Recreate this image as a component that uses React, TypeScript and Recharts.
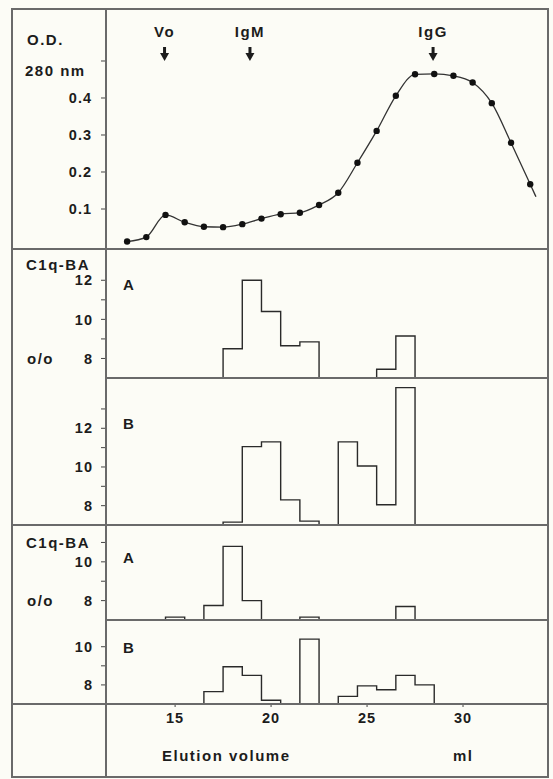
import React from 'react';
import { ComposedChart, LineChart, Line, XAxis, YAxis, ReferenceDot } from 'recharts';

// O.D. 280 nm, one reading per ml; the last value only closes the curve (no dot)
const OD_ML = [12.5, 13.5, 14.5, 15.5, 16.5, 17.5, 18.5, 19.5, 20.5, 21.5, 22.5, 23.5, 24.5, 25.5, 26.5, 27.5, 28.5, 29.5, 30.5, 31.5, 32.5, 33.5, 33.8];
const OD_280 = [0.012, 0.024, 0.084, 0.064, 0.052, 0.051, 0.059, 0.074, 0.086, 0.09, 0.111, 0.144, 0.225, 0.311, 0.406, 0.464, 0.465, 0.46, 0.442, 0.386, 0.279, 0.167, 0.133];
const OD_DOTS = 22;
const OD_TICKS = [0.1, 0.2, 0.3, 0.4, 0.5];

const MARKER_ML = [14.45, 18.9, 28.44];
const MARKER_NAMES = ['Vo', 'IgM', 'IgG'];
const MARKER_OD = 0.5;

// C1q-BA %, per 1 ml fraction (7 = base line of the panel)
const FRACTION_ML = [14, 15, 16, 17, 18, 19, 20, 21, 22, 23, 24, 25, 26, 27, 28, 29];
const C1Q_1A = [7, 7, 7, 7, 8.5, 12, 10.4, 8.65, 8.85, 7, 7, 7, 7.45, 9.15, 7, 7];
const C1Q_1B = [7, 7, 7, 7, 7.15, 11.05, 11.3, 8.3, 7.2, 7, 11.3, 10.05, 8.05, 14.1, 7, 7];
const C1Q_2A = [7, 7.15, 7, 7.75, 10.8, 8, 7, 7, 7.15, 7, 7, 7, 7, 7.7, 7, 7];
const C1Q_2B = [7, 7, 7, 7.65, 8.95, 8.5, 7.2, 7, 10.4, 7, 7.4, 7.95, 7.75, 8.5, 8, 7];

const X_DOMAIN = [11.4, 34.375];
const X_TICKS = [15, 20, 25, 30];

const INK = '#1c1c1c';
const FRAME = '#6a6a6a';
const FONT = { fontFamily: 'Liberation Sans', fontWeight: 'bold' as const, fontSize: 15, fill: INK, letterSpacing: 1.5 };
const TICK_FONT = { ...FONT, fontSize: 14.5, letterSpacing: 1 };

const odData = OD_ML.map((ml, i) => ({ ml, od: OD_280[i] }));

const Marker = (name: string) => (p: any) => (
  <g>
    <text x={p.cx} y={p.cy - 24} textAnchor="middle" {...FONT}>{name}</text>
    <line x1={p.cx} y1={p.cy - 14} x2={p.cx} y2={p.cy - 6} stroke={INK} strokeWidth={3} />
    <path d={`M${p.cx - 4.5},${p.cy - 8}L${p.cx + 4.5},${p.cy - 8}L${p.cx},${p.cy}Z`} fill={INK} />
  </g>
);

function OdPanel() {
  return (
    <div style={{ position: 'absolute', left: 0, top: 9 }}>
      <ComposedChart width={553} height={240} data={odData} margin={{ top: 0, right: 6, bottom: 0, left: 0 }}>
        <XAxis type="number" dataKey="ml" domain={X_DOMAIN} hide />
        <YAxis type="number" domain={[-0.0081, 0.6405]} ticks={OD_TICKS} width={106} axisLine={false}
          tickSize={5} tickMargin={9} tickLine={{ stroke: '#444' }} tick={TICK_FONT}
          tickFormatter={(v: number) => (v === 0.5 ? '' : v.toFixed(1))} />
        <Line type="monotone" dataKey="od" stroke="#333" strokeWidth={1.3} isAnimationActive={false}
          dot={(p: any) => p.index < OD_DOTS
            ? <circle key={p.index} cx={p.cx} cy={p.cy} r={3.2} fill="#111" />
            : <g key={p.index} />} />
        {MARKER_ML.map((ml, i) => (
          <ReferenceDot key={MARKER_NAMES[i]} x={ml} y={MARKER_OD} shape={Marker(MARKER_NAMES[i])} />
        ))}
      </ComposedChart>
    </div>
  );
}

function StepPanel({ top, height, values, domain, ticks, axis }: {
  top: number; height: number; values: number[]; domain: number[]; ticks: number[]; axis?: boolean;
}) {
  const data = FRACTION_ML.map((ml, i) => ({ ml, ba: values[i] }));
  const axisH = axis ? 40 : 0;
  return (
    <div style={{ position: 'absolute', left: 0, top }}>
      <LineChart width={553} height={height + axisH} data={data} margin={{ top: 0, right: 6, bottom: 0, left: 0 }}>
        <XAxis type="number" dataKey="ml" domain={X_DOMAIN} ticks={X_TICKS} hide={!axis} height={axisH}
          axisLine={false} tickSize={3} tickMargin={6} tickLine={{ stroke: '#444' }} tick={TICK_FONT} />
        <YAxis type="number" domain={domain} ticks={ticks} width={106} axisLine={false}
          tickSize={5} tickMargin={8} tickLine={{ stroke: '#444' }} tick={TICK_FONT}
          tickFormatter={(v: number) => (v % 2 === 0 ? String(v) : '')} />
        <Line type="step" dataKey="ba" stroke="#2a2a2a" strokeWidth={1.4} dot={false} isAnimationActive={false} />
      </LineChart>
    </div>
  );
}

function Frame() {
  const t = (x: number, y: number, s: string) => <text x={x} y={y} {...FONT}>{s}</text>;
  return (
    <svg width={553} height={779} style={{ position: 'absolute', left: 0, top: 0, pointerEvents: 'none' }}>
      <rect x={12} y={9} width={536} height={768} fill="none" stroke={FRAME} strokeWidth={2} />
      <line x1={106} y1={9} x2={106} y2={777} stroke={FRAME} strokeWidth={2} />
      <line x1={12} y1={249} x2={548} y2={249} stroke={FRAME} strokeWidth={2} />
      <line x1={106} y1={378} x2={548} y2={378} stroke={FRAME} strokeWidth={2} />
      <line x1={12} y1={525} x2={548} y2={525} stroke={FRAME} strokeWidth={2} />
      <line x1={106} y1={620} x2={548} y2={620} stroke={FRAME} strokeWidth={2} />
      <line x1={12} y1={704} x2={548} y2={704} stroke={FRAME} strokeWidth={2} />
      {t(27, 45, 'O.D.')}
      {t(25, 76, '280 nm')}
      {t(26, 270, 'C1q-BA')}
      {t(27, 364, 'o/o')}
      {t(123, 290, 'A')}
      {t(123, 429, 'B')}
      {t(26, 548, 'C1q-BA')}
      {t(27, 606, 'o/o')}
      {t(123, 563, 'A')}
      {t(123, 653, 'B')}
      {t(162, 761, 'Elution volume')}
      {t(453, 761, 'ml')}
    </svg>
  );
}

export default function App() {
  return (
    <div style={{ position: 'absolute', left: 0, top: 0, width: 553, height: 779, background: '#fcfcf6', overflow: 'hidden' }}>
      <OdPanel />
      <StepPanel top={249} height={129} values={C1Q_1A} domain={[7, 13.6]} ticks={[8, 9, 10, 11, 12]} />
      <StepPanel top={378} height={147} values={C1Q_1B} domain={[7, 14.6]} ticks={[8, 9, 10, 11, 12, 13]} />
      <StepPanel top={525} height={95} values={C1Q_2A} domain={[7, 11.9]} ticks={[8, 9, 10, 11]} />
      <StepPanel top={620} height={84} values={C1Q_2B} domain={[7, 11.4]} ticks={[8, 9, 10]} axis />
      <Frame />
    </div>
  );
}
